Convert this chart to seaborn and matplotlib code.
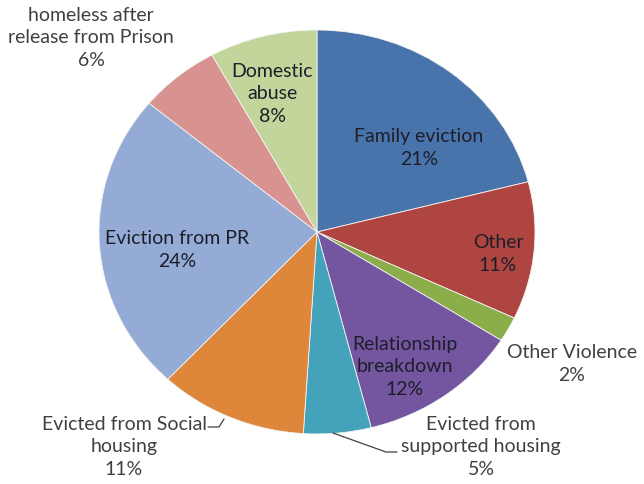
import matplotlib
matplotlib.use("Agg")
import matplotlib.pyplot as plt
import seaborn as sns

categories = ["Family eviction", "Other", "Other Violence", "Relationship\nbreakdown",
              "Evicted from\nsupported housing", "Evicted from Social\nhousing",
              "Eviction from PR", "homeless after\nrelease from Prison", "Domestic\nabuse"]
values = [21, 11, 2, 12, 5, 11, 24, 6, 8]
colors = ["#4873AB", "#AF4540", "#8BAE4B", "#73569F", "#44A2BB", "#DE8639",
          "#93ABD5", "#D89391", "#C2D69B"]

sns.set_theme(style="white")
plt.rcParams['font.family'] = ['Lato', 'DejaVu Sans']

W, H = 644, 485
fig = plt.figure(figsize=(W / 100, H / 100), dpi=100)
ax = fig.add_axes([0, 0, 1, 1])

CX, CY, RX, RY = 317, 233, 218, 202

def px(x, y):
    return (x - CX) / RX, (CY - y) / RY

wedges, _ = ax.pie(values, colors=colors, startangle=90, counterclock=False,
                   radius=1.0, center=(0, 0),
                   wedgeprops=dict(edgecolor="#f4f4f4", linewidth=0.6))
ax.set_aspect("auto")
ax.set_xlim((0 - CX) / RX, (W - CX) / RX)
ax.set_ylim((CY - H) / RY, CY / RY)
ax.axis("off")

# label layout (pixel positions of label centres) and colours
label_pos = [(419, 148), (498, 254), (572, 364), (405, 367), (481, 447),
             (124, 447), (177, 250), (91, 38), (272, 94)]
inside = [True, True, False, True, False, False, True, False, True]

for cat, val, (lx, ly), ins in zip(categories, values, label_pos, inside):
    x, y = px(lx, ly)
    ax.text(x, y, f"{cat}\n{val}%", ha="center", va="center", fontsize=14,
            linespacing=1.38, color="#1e1e2a" if ins else "#404040")

# leader lines
for pts in ([(333, 434), (386, 453), (397, 453)],
            [(208, 428), (219, 428), (224, 420)]):
    xs, ys = zip(*[px(a, b) for a, b in pts])
    ax.plot(xs, ys, color="#404040", lw=0.9)

fig.savefig("out.png", dpi=100, facecolor="white")
